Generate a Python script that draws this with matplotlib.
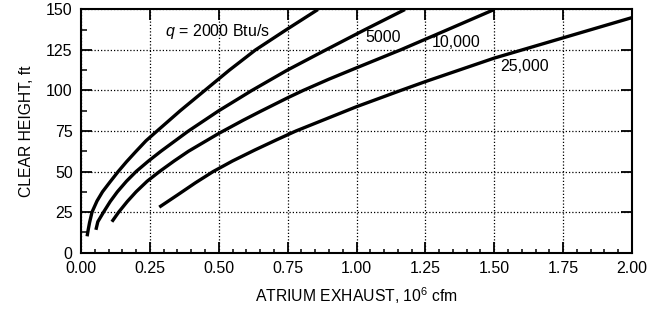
import matplotlib
matplotlib.use("Agg")
import matplotlib.pyplot as plt
from matplotlib.ticker import MultipleLocator, FormatStrFormatter

plt.rcParams["font.family"] = ["Liberation Sans", "DejaVu Sans"]
plt.rcParams["mathtext.fontset"] = "custom"
plt.rcParams["mathtext.rm"] = "Liberation Sans"
plt.rcParams["mathtext.it"] = "Liberation Sans:italic"

# atrium exhaust (10^6 cfm) vs clear height (ft) for each fire size
x_2000 = [0.022, 0.026, 0.031, 0.040, 0.058, 0.078, 0.105, 0.135, 0.165, 0.200,
          0.236, 0.276, 0.360, 0.449, 0.538, 0.633, 0.745, 0.860]
y_2000 = [10, 14, 18.5, 25, 31.8, 37.5, 43.5, 50, 56, 62.5,
          69, 75, 87.5, 100, 112.5, 125, 137.5, 150]

x_5000 = [0.054, 0.061, 0.082, 0.106, 0.132, 0.165, 0.200, 0.245, 0.290, 0.342,
          0.390, 0.500, 0.620, 0.748, 0.888, 1.030, 1.176]
y_5000 = [14, 19, 25, 31.5, 37.5, 44, 50, 56.5, 62.5, 69,
          75, 87.5, 100, 112.5, 125, 137.5, 150]

x_10000 = [0.112, 0.137, 0.168, 0.200, 0.240, 0.285, 0.338, 0.390, 0.440, 0.500,
           0.587, 0.650, 0.750, 0.806, 0.900, 1.000, 1.159, 1.330, 1.500]
y_10000 = [19, 25, 31.5, 37.5, 44, 50, 56.5, 62.5, 67.5, 73.5,
           81.5, 87, 95.5, 100, 107, 114, 125, 137.5, 150]

x_25000 = [0.284, 0.350, 0.415, 0.480, 0.550, 0.630, 0.709, 0.780, 0.890, 1.000,
           1.160, 1.250, 1.500, 1.580, 1.750, 2.000]
y_25000 = [28, 35.5, 43, 50, 56.5, 63.2, 69.5, 75, 82.5, 90,
           100, 105.5, 120, 124, 132.5, 145]

labels = ["$q$ = 2000 Btu/s", "5000", "10,000", "25,000"]
label_x = [0.304, 1.095, 1.36, 1.61]
label_y = [136.4, 132.7, 129.6, 114.8]

fig = plt.figure(figsize=(6.62, 3.09), dpi=100)
ax = fig.add_axes([0.1224, 0.1828, 0.8323, 0.7865])

for xs, ys in [(x_2000, y_2000), (x_5000, y_5000), (x_10000, y_10000), (x_25000, y_25000)]:
    ax.plot(xs, ys, color="black", lw=2.4, solid_capstyle="butt",
            solid_joinstyle="round", zorder=3)

ax.text(label_x[0], label_y[0], labels[0], ha="left", va="center", fontsize=11.5)
for t, lx, ly in zip(labels[1:], label_x[1:], label_y[1:]):
    ax.text(lx, ly, t, ha="center", va="center", fontsize=11.5)

ax.set_xlim(0, 2.0)
ax.set_ylim(0, 150)
ax.xaxis.set_major_locator(MultipleLocator(0.25))
ax.xaxis.set_minor_locator(MultipleLocator(0.05))
ax.xaxis.set_major_formatter(FormatStrFormatter("%.2f"))
ax.yaxis.set_major_locator(MultipleLocator(25))
ax.yaxis.set_minor_locator(MultipleLocator(12.5))

ax.grid(True, which="major", color="black", lw=0.9, linestyle=(0, (1, 1.6)), zorder=1)
ax.tick_params(which="major", direction="in", length=8, width=1.3,
               top=True, right=True, labelsize=11.5, pad=6, color="black")
ax.tick_params(axis="x", which="minor", direction="in", length=3.2, width=1.1,
               bottom=True, top=False)
ax.tick_params(axis="y", which="minor", direction="in", length=4.5, width=1.1,
               left=True, right=False)
for s in ax.spines.values():
    s.set_linewidth(1.5)

ax.set_xlabel("ATRIUM EXHAUST, 10$^6$ cfm", fontsize=11.3, labelpad=7)
ax.set_ylabel("CLEAR HEIGHT, ft", fontsize=11.3, labelpad=9)

fig.savefig("out.png", dpi=100)
